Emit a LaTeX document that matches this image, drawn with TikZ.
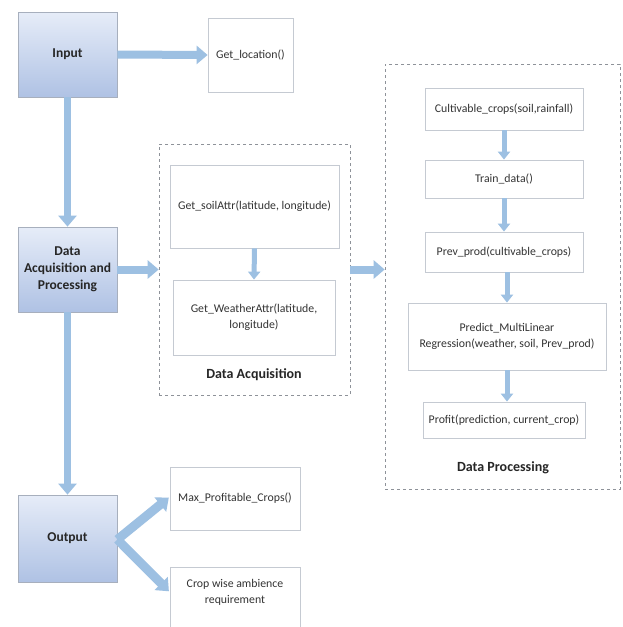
\documentclass[tikz,border=0pt]{standalone}
\usepackage{fontspec}
\setmainfont{Carlito}
\usetikzlibrary{arrows.meta}
\definecolor{arrowblue}{HTML}{9DC0E2}
\definecolor{boxtop}{HTML}{E6ECF8}
\definecolor{boxbot}{HTML}{AFC2E4}
\definecolor{boxline}{HTML}{A7AFBD}
\definecolor{subline}{HTML}{C5CAD2}
\definecolor{dashline}{HTML}{8E9299}
\tikzset{
  mainbox/.style={draw=boxline, line width=0.8pt, top color=boxtop, bottom color=boxbot,
    minimum width=99pt, minimum height=85pt, align=center, inner sep=2pt,
    font=\fontsize{13.5}{17}\selectfont\bfseries, text=black!85},
  subbox/.style={draw=subline, line width=0.8pt, fill=white, align=center, inner sep=2pt,
    font=\fontsize{11.8}{16}\selectfont, text=black!80},
  dashbox/.style={draw=dashline, dashed, line width=0.7pt},
  grouplabel/.style={font=\fontsize{14}{16}\selectfont\bfseries, text=black!85},
  bigarrow/.style={draw=arrowblue, line width=8pt, -{Triangle[length=11pt,width=18pt]}},
  smallarrow/.style={draw=arrowblue, line width=5pt, -{Triangle[length=8pt,width=12pt]}},
}
\begin{document}
\begin{tikzpicture}[x=1pt,y=-1pt]
\useasboundingbox[fill=white] (0,0) rectangle (622,627);
% main boxes
\node[mainbox] (input) at (67.5,54.5) {Input};
\node[mainbox] (daq) at (67.5,269.5) {Data\\Acquisition and\\Processing};
\node[mainbox, minimum height=87pt] (out) at (67.5,538.5) {Output};
% side boxes
\node[subbox, minimum width=85pt, minimum height=74pt] (getloc) at (250.5,55) {Get\_location()};
% data acquisition group
\node[dashbox, minimum width=191pt, minimum height=251pt] (acq) at (254.5,269.5) {};
\node[subbox, minimum width=169pt, minimum height=83pt] (soil) at (254.5,206.5) {Get\_soilAttr(latitude, longitude)};
\node[subbox, minimum width=162pt, minimum height=75pt] (weather) at (254,317.5) {Get\_WeatherAttr(latitude,\\longitude)};
\node[grouplabel] (acqlabel) at (254,375) {Data Acquisition};
% data processing group
\node[dashbox, minimum width=235pt, minimum height=425pt] (proc) at (502.5,276.5) {};
\node[subbox, minimum width=158pt, minimum height=42pt] (cult) at (504,109) {Cultivable\_crops(soil,rainfall)};
\node[subbox, minimum width=158pt, minimum height=38pt] (train) at (504,179) {Train\_data()};
\node[subbox, minimum width=158pt, minimum height=40pt] (prev) at (504,252) {Prev\_prod(cultivable\_crops)};
\node[subbox, minimum width=198pt, minimum height=67pt] (pred) at (507,336.5) {Predict\_MultiLinear\\Regression(weather, soil, Prev\_prod)};
\node[subbox, minimum width=162pt, minimum height=36pt] (profit) at (504,420) {Profit(prediction, current\_crop)};
\node[grouplabel] (proclabel) at (503,468) {Data Processing};
% output boxes
\node[subbox, minimum width=130pt, minimum height=63pt] (maxp) at (235,498.5) {Max\_Profitable\_Crops()};
\node[subbox, minimum width=130pt, minimum height=74pt, anchor=north] (cropw) at (235,567) {};
\node[subbox, draw=none, fill=none] (cropwt) at (235,592) {Crop wise ambience\\requirement};
% arrows
\draw[bigarrow] (input.east) -- (getloc.west);
\draw[bigarrow, line width=7pt] (input.south) -- (daq.north);
\draw[bigarrow, line width=7pt] (daq.south) -- (out.north);
\draw[bigarrow] (daq.east) -- (acq.west);
\draw[bigarrow] (acq.east) -- (acq.east -| proc.west);
\draw[smallarrow] (soil.south) -- (weather.north);
\draw[smallarrow] (cult.south) -- (train.north);
\draw[smallarrow] (train.south) -- (prev.north);
\draw[smallarrow] (prev.south -| pred.north) -- (pred.north);
\draw[smallarrow] (pred.south) -- (pred.south |- profit.north);
\coordinate (oe) at ([yshift=-1pt]out.east);
\draw[bigarrow, line width=9pt, shorten >=1pt] (oe) -- ([yshift=1.5pt]maxp.west);
\draw[bigarrow, line width=9pt, shorten >=1pt] (oe) -- (cropw.west |- cropwt.center);
\end{tikzpicture}
\end{document}
